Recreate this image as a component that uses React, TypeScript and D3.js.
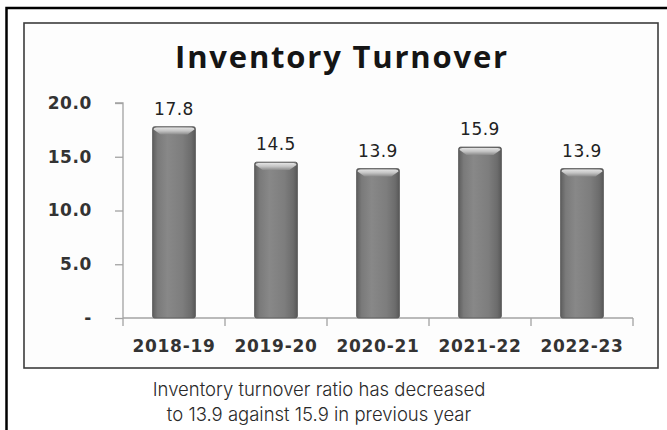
/**
 * InventoryTurnover — grey cylinder-style bar chart with a caption below.
 */

import { useEffect, useRef } from 'react';
import * as d3 from 'd3';

// ─── Data ───────────────────────────────────────────────────

const YEARS = ['2018-19', '2019-20', '2020-21', '2021-22', '2022-23'];
const TURNOVER = [17.8, 14.5, 13.9, 15.9, 13.9];
const Y_TICKS = [0, 5, 10, 15, 20];
const TITLE = 'Inventory Turnover';
const CAPTION = [
  'Inventory turnover ratio has decreased',
  'to 13.9 against 15.9 in previous year',
];

// ─── Constants ──────────────────────────────────────────────

const W = 667;
const H = 430;
const PLOT = { left: 123, right: 633, top: 103, bottom: 318 };
const AXIS_COLOR = '#a3a3a3';
const TEXT_COLOR = '#333';
const LABEL_FONT = '"DejaVu Sans", Verdana, sans-serif';

// ─── Component ──────────────────────────────────────────────

function InventoryChart() {
  const svgRef = useRef<SVGSVGElement>(null);

  useEffect(() => {
    if (!svgRef.current) return;
    const svg = d3.select(svgRef.current);
    svg.selectAll('*').remove();

    // Gradients for the bars
    const defs = svg.append('defs');
    const body = defs.append('linearGradient').attr('id', 'barBody')
      .attr('x1', '0%').attr('x2', '100%').attr('y1', '0%').attr('y2', '0%');
    [
      [0, '#5e5e5e'], [0.12, '#7a7a7a'], [0.35, '#888'],
      [0.7, '#7d7d7d'], [0.9, '#6c6c6c'], [1, '#585858'],
    ].forEach(([o, c]) => body.append('stop').attr('offset', o as number).attr('stop-color', c as string));

    const cap = defs.append('linearGradient').attr('id', 'barCap')
      .attr('x1', '0%').attr('x2', '0%').attr('y1', '0%').attr('y2', '100%');
    [[0, '#e4e4e4'], [0.5, '#c4c4c4'], [1, '#8c8c8c']]
      .forEach(([o, c]) => cap.append('stop').attr('offset', o as number).attr('stop-color', c as string));

    // Frames
    svg.append('rect').attr('x', 0).attr('y', 0).attr('width', W).attr('height', H).attr('fill', '#fff');
    svg.append('rect')
      .attr('x', 6.5).attr('y', 8).attr('width', W + 20).attr('height', H + 20)
      .attr('fill', 'none').attr('stroke', '#000').attr('stroke-width', 2.5);
    svg.append('rect')
      .attr('x', 24).attr('y', 23).attr('width', 634).attr('height', 345)
      .attr('fill', '#fdfdfd').attr('stroke', '#3c3c3c').attr('stroke-width', 1.6);

    // Title
    svg.append('text')
      .attr('x', 342).attr('y', 68)
      .attr('text-anchor', 'middle')
      .attr('font-family', '"Open Sans", sans-serif')
      .attr('font-weight', 700)
      .attr('font-size', '31px')
      .attr('letter-spacing', '1.8px')
      .attr('fill', '#151515')
      .text(TITLE);

    // Scales
    const x = d3.scaleBand<string>()
      .domain(YEARS)
      .range([PLOT.left, PLOT.right])
      .paddingInner(0.58)
      .paddingOuter(0.29);
    const y = d3.scaleLinear().domain([0, 20]).range([PLOT.bottom, PLOT.top]);
    const step = x.step();

    // Y axis
    const gy = svg.append('g').attr('transform', `translate(${PLOT.left},0)`)
      .call(d3.axisLeft(y).tickValues(Y_TICKS).tickSize(8).tickPadding(23)
        .tickFormat((d) => (+d === 0 ? '-' : d3.format('.1f')(+d))));
    gy.selectAll('line,path').attr('stroke', AXIS_COLOR).attr('stroke-width', 1.3);
    gy.select('.domain').attr('d', `M-8,${PLOT.top}H0V${PLOT.bottom}`);
    gy.selectAll('text')
      .attr('fill', TEXT_COLOR)
      .attr('font-family', LABEL_FONT)
      .attr('font-weight', 700)
      .attr('font-size', '17px')
      .attr('letter-spacing', '0.6px');

    // X axis: boundary ticks pointing down
    svg.append('line')
      .attr('x1', PLOT.left).attr('x2', PLOT.right)
      .attr('y1', PLOT.bottom).attr('y2', PLOT.bottom)
      .attr('stroke', AXIS_COLOR).attr('stroke-width', 1.3);
    const bounds = [...YEARS.map((d) => (x(d) as number) - step * 0.29), PLOT.right];
    svg.append('g').selectAll('line')
      .data(bounds)
      .join('line')
      .attr('x1', (d) => d).attr('x2', (d) => d)
      .attr('y1', PLOT.bottom).attr('y2', PLOT.bottom + 8)
      .attr('stroke', AXIS_COLOR).attr('stroke-width', 1.3);

    svg.append('g').selectAll('text')
      .data(YEARS)
      .join('text')
      .attr('x', (d) => (x(d) as number) + x.bandwidth() / 2)
      .attr('y', 352)
      .attr('text-anchor', 'middle')
      .attr('fill', TEXT_COLOR)
      .attr('font-family', LABEL_FONT)
      .attr('font-weight', 700)
      .attr('font-size', '17px')
      .attr('letter-spacing', '0.7px')
      .text((d) => d);

    // Bars
    const bw = x.bandwidth();
    const bars = svg.append('g').selectAll('g')
      .data(YEARS.map((year, i) => ({ year, value: TURNOVER[i] })))
      .join('g');

    bars.append('rect')
      .attr('x', (d) => x(d.year) as number)
      .attr('y', (d) => y(d.value))
      .attr('width', bw)
      .attr('height', (d) => y(0) - y(d.value))
      .attr('rx', 2)
      .attr('fill', 'url(#barBody)')
      .attr('stroke', '#555')
      .attr('stroke-width', 0.8);

    bars.append('path')
      .attr('d', (d) => {
        const x0 = (x(d.year) as number) + 1;
        const x1 = x0 + bw - 2;
        const t = y(d.value) + 0.8;
        return `M${x0},${t + 2}Q${x0},${t} ${x0 + 3},${t}H${x1 - 3}Q${x1},${t} ${x1},${t + 2}`
          + `L${x1 - 7},${t + 7}H${x0 + 7}Z`;
      })
      .attr('fill', 'url(#barCap)');

    bars.append('text')
      .attr('x', (d) => (x(d.year) as number) + bw / 2)
      .attr('y', (d) => y(d.value) - 12)
      .attr('text-anchor', 'middle')
      .attr('fill', '#222')
      .attr('font-family', LABEL_FONT)
      .attr('font-size', '17px')
      .attr('letter-spacing', '0.5px')
      .text((d) => d.value.toFixed(1));

    // Caption
    svg.append('g').selectAll('text')
      .data(CAPTION)
      .join('text')
      .attr('x', 319)
      .attr('y', (_, i) => 396 + i * 25)
      .attr('text-anchor', 'middle')
      .attr('font-family', 'Inter, sans-serif')
      .attr('font-weight', 300)
      .attr('font-size', '18.5px')
      .attr('fill', '#2a2a2a')
      .text((d) => d);
  }, []);

  return <svg ref={svgRef} width={W} height={H} style={{ display: 'block' }} />;
}

export default function App() {
  return (
    <div style={{ position: 'absolute', left: 0, top: 0, width: W, height: H, overflow: 'hidden' }}>
      <InventoryChart />
    </div>
  );
}
